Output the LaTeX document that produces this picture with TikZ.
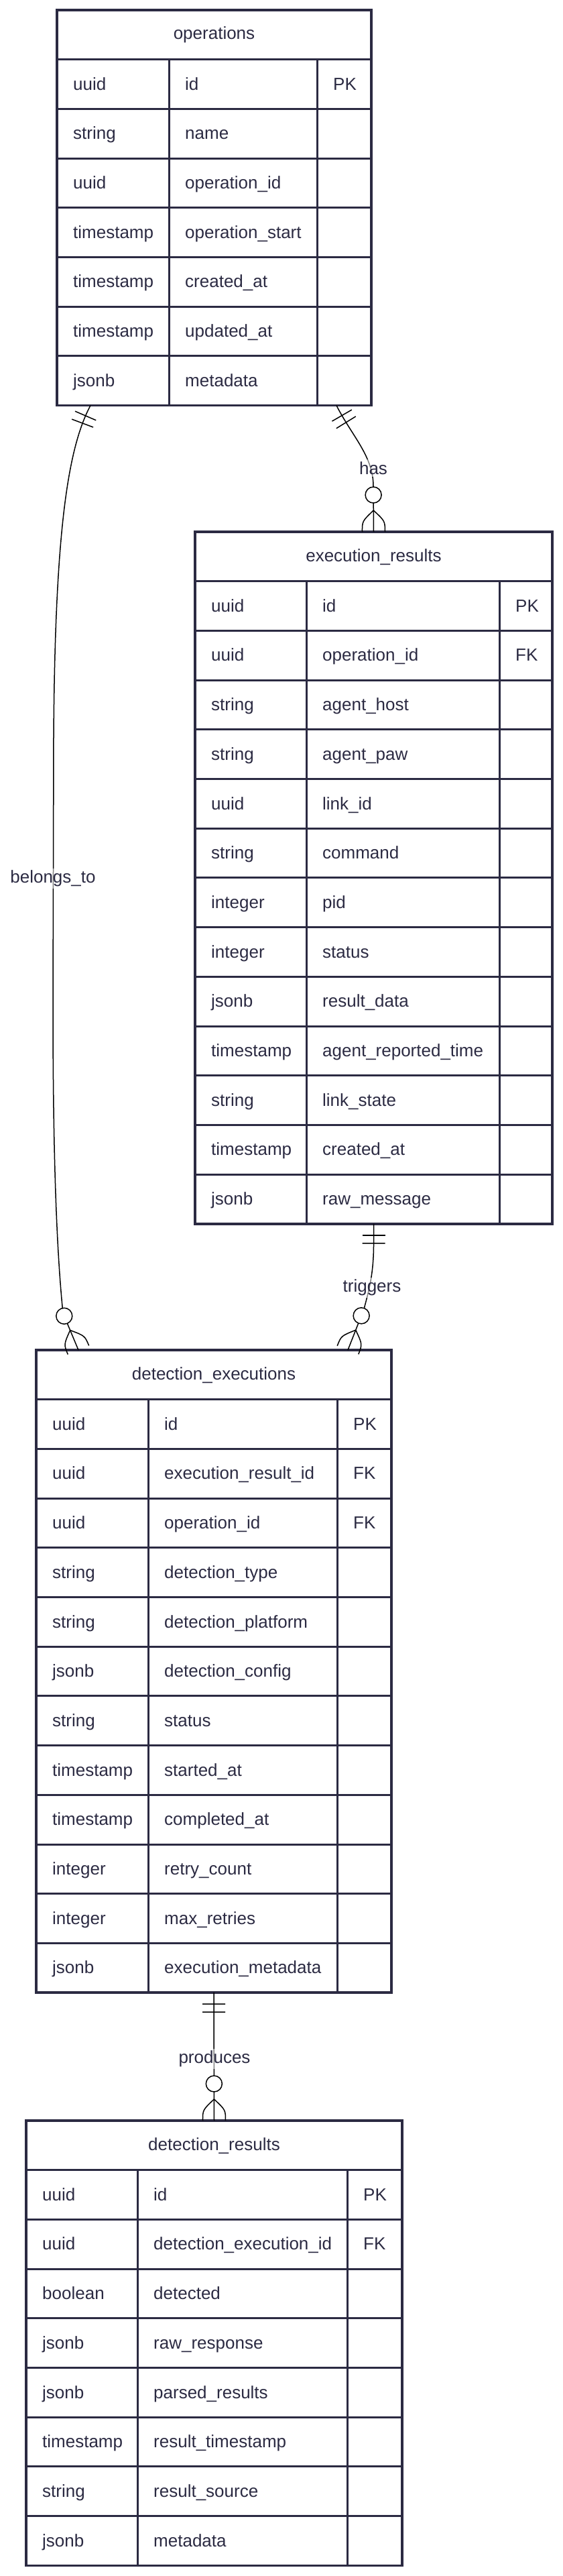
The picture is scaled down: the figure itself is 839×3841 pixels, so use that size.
\documentclass[tikz,border=0pt]{standalone}
\usepackage{fontspec}
\setmainfont{Liberation Sans}
\usetikzlibrary{fit,decorations.markings}
\definecolor{erink}{HTML}{2B2A42}
\newcommand{\erfont}{\fontsize{26}{31}\selectfont}

\tikzset{
  ertext/.style={font=\erfont,text=erink,inner sep=0pt},
  ercell/.style={draw=erink,line width=3pt,inner sep=0pt,outer sep=0pt,
    minimum height=73.7pt,anchor=north west},
  erframe/.style={draw=erink,line width=3.4pt,inner sep=0pt,outer sep=0pt},
  erlink/.style={draw=black,line width=1.5pt},
  erlabel/.style={ertext,fill=white,fill opacity=0.5,text opacity=1,inner ysep=3pt},
  onlyone/.style={postaction={decorate,decoration={markings,
      mark=at position 17pt with {\draw[erlink] (0pt,-17pt) -- (0pt,17pt);},
      mark=at position 29pt with {\draw[erlink] (0pt,-17pt) -- (0pt,17pt);}}}},
  zeromany/.style={postaction={decorate,decoration={markings,
      mark=at position 1 with {
        \draw[erlink,fill=white] (-55pt,0pt) circle (12pt);
        \draw[erlink] (-32pt,0pt) .. controls (-16pt,17pt) .. (0pt,17pt);
        \draw[erlink] (-32pt,0pt) .. controls (-16pt,-17pt) .. (0pt,-17pt);}}}}
}

% #1 name, #2 left, #3 top, #4 #5 #6 column widths, #7 title, #8 rows
\newcommand{\ertable}[8]{%
  \pgfmathsetmacro{\erw}{#4+#5+#6}
  \node[ercell,minimum width=\erw pt] (#1-head) at (#2,#3) {};
  \node[ertext,anchor=mid] (#1-title) at ([yshift=-4.5pt]#1-head.center) {#7};
  \foreach \ty/\nm/\ky [count=\i] in {#8} {
    \node[ercell,minimum width=#4pt] (#1-t\i) at (#2,{#3+\i*73.7}) {};
    \node[ercell,minimum width=#5pt] (#1-n\i) at (#1-t\i.north east) {};
    \node[ercell,minimum width=#6pt] (#1-k\i) at (#1-n\i.north east) {};
    \node[ertext,anchor=mid west] (#1-t\i-l) at ([xshift=24pt,yshift=-6pt]#1-t\i.west) {\ty};
    \node[ertext,anchor=mid west] (#1-n\i-l) at ([xshift=24pt,yshift=-6pt]#1-n\i.west) {\nm};
    \node[ertext,anchor=mid west] (#1-k\i-l) at ([xshift=24pt,yshift=-6pt]#1-k\i.west) {\ky};
    \coordinate (#1-se) at (#1-k\i.south east);
  }
  \node[erframe,fit=(#1-head)(#1-se)] (#1) {};
}

\begin{document}
\begin{tikzpicture}[x=1pt,y=-1pt]
  \useasboundingbox (0,0) rectangle (839,3841);

  \ertable{ops}{85}{15}{167}{221}{81}{operations}{
    uuid/id/PK, string/name/{}, uuid/operation\_id/{},
    timestamp/operation\_start/{}, timestamp/created\_at/{},
    timestamp/updated\_at/{}, jsonb/metadata/{}}

  \ertable{exr}{291}{793}{166}{288}{79}{execution\_results}{
    uuid/id/PK, uuid/operation\_id/FK, string/agent\_host/{},
    string/agent\_paw/{}, uuid/link\_id/{}, string/command/{},
    integer/pid/{}, integer/status/{}, jsonb/result\_data/{},
    timestamp/agent\_reported\_time/{}, string/link\_state/{},
    timestamp/created\_at/{}, jsonb/raw\_message/{}}

  \ertable{dex}{54}{2013}{167}{282}{81}{detection\_executions}{
    uuid/id/PK, uuid/execution\_result\_id/FK, uuid/operation\_id/FK,
    string/detection\_type/{}, string/detection\_platform/{},
    jsonb/detection\_config/{}, string/status/{}, timestamp/started\_at/{},
    timestamp/completed\_at/{}, integer/retry\_count/{},
    integer/max\_retries/{}, jsonb/execution\_metadata/{}}

  \ertable{dres}{39}{3162}{166}{313}{82}{detection\_results}{
    uuid/id/PK, uuid/detection\_execution\_id/FK, boolean/detected/{},
    jsonb/raw\_response/{}, jsonb/parsed\_results/{},
    timestamp/result\_timestamp/{}, string/result\_source/{},
    jsonb/metadata/{}}

  % relationships
  \draw[erlink,onlyone,zeromany] ([xshift=-52pt]ops.south east)
    .. controls (525,650) and (557,680) .. (557,725) -- (exr.north);
  \draw[erlink,onlyone,zeromany] ([xshift=50pt]ops.south west)
    .. controls (100,670) and (82,800) .. (80,1100) -- (79,1500)
    .. controls (79,1750) and (86,1880) .. (94,1958)
    -- ([xshift=63pt]dex.north west);
  \draw[erlink,onlyone,zeromany] (exr.south) -- ++(0,25)
    .. controls (558,1900) and (550,1925) .. (543,1952)
    -- ([xshift=-65pt]dex.north east);
  \draw[erlink,onlyone,zeromany] (dex.south) -- (dres.north);

  \node[erlabel] (has) at (557,698) {has};
  \node[erlabel] (belongs) at (79,1310) {belongs\_to};
  \node[erlabel] (triggers) at (555,1920) {triggers};
  \node[erlabel] (produces) at (320,3070) {produces};
\end{tikzpicture}
\end{document}
